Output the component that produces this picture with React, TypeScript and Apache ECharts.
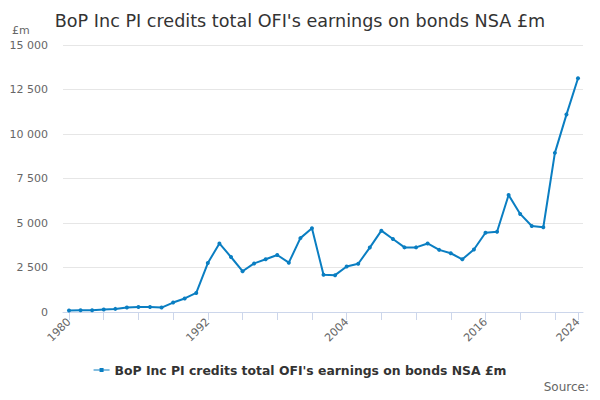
import React, { useEffect, useRef } from "react";
import * as echarts from "echarts";

const years: number[] = [
  1980, 1981, 1982, 1983, 1984, 1985, 1986, 1987, 1988, 1989, 1990, 1991, 1992, 1993, 1994,
  1995, 1996, 1997, 1998, 1999, 2000, 2001, 2002, 2003, 2004, 2005, 2006, 2007, 2008, 2009,
  2010, 2011, 2012, 2013, 2014, 2015, 2016, 2017, 2018, 2019, 2020, 2021, 2022, 2023, 2024,
];
const values: number[] = [
  80, 95, 95, 135, 175, 250, 285, 285, 250, 530, 760, 1070, 2750, 3850, 3090,
  2290, 2730, 2960, 3200, 2770, 4150, 4700, 2090, 2070, 2560, 2710, 3620, 4570, 4100, 3630,
  3630, 3850, 3490, 3300, 2960, 3510, 4450, 4510, 6570, 5510, 4830, 4760, 8940, 11090, 13130,
];
const tickYears: number[] = [1980, 1983, 1986, 1989, 1992, 1995, 1998, 2001, 2004, 2007, 2010, 2013, 2016, 2019, 2022, 2024];
const labelYears: number[] = [1980, 1992, 2004, 2016, 2024];
const seriesName = "BoP Inc PI credits total OFI's earnings on bonds NSA £m";

const FONT = "DejaVu Sans";

export default function App() {
  const ref = useRef<HTMLDivElement>(null);
  useEffect(() => {
    if (!ref.current) return;
    const chart = echarts.init(ref.current, null, { renderer: "svg" });
    chart.setOption({
      animation: false,
      textStyle: { fontFamily: FONT },
      title: {
        text: seriesName,
        left: "center",
        top: 7,
        textStyle: { fontFamily: FONT, fontSize: 17.6, fontWeight: "normal", color: "#333333" },
      },
      grid: { left: 63, right: 17, top: 45, bottom: 88 },
      legend: {
        bottom: 19,
        left: "center",
        itemWidth: 16,
        itemHeight: 8,
        itemGap: 5,
        textStyle: { fontFamily: FONT, fontSize: 12.4, fontWeight: "bold", color: "#333333" },
        data: [{ name: seriesName, icon: "path://M0,3.5 L16,3.5 L16,4.5 L0,4.5 Z M6,2 L10,2 L10,6 L6,6 Z" }],
      },
      xAxis: {
        type: "value",
        min: 1979.48,
        max: 2024.43,
        axisLine: { show: true, lineStyle: { color: "#ccd6eb" } },
        axisTick: { show: true, length: 8, lineStyle: { color: "#ccd6eb" }, customValues: tickYears },
        axisLabel: {
          customValues: labelYears,
          rotate: 45,
          color: "#666666",
          fontSize: 11,
          fontFamily: FONT,
          margin: 8,
          formatter: (v: number) => String(v),
        },
        splitLine: { show: false },
      },
      yAxis: {
        type: "value",
        min: 0,
        max: 15000,
        interval: 2500,
        axisLine: { show: false },
        axisTick: { show: false },
        axisLabel: {
          color: "#666666",
          fontSize: 11,
          fontFamily: FONT,
          margin: 15,
          formatter: (v: number) => String(v).replace(/\B(?=(\d{3})+(?!\d))/g, " "),
        },
        splitLine: { lineStyle: { color: "#e6e6e6" } },
      },
      graphic: [
        {
          type: "text",
          left: 12,
          top: 25,
          style: { text: "£m", fontFamily: FONT, fontSize: 11, fill: "#666666" },
        },
        {
          type: "text",
          right: 11,
          top: 381,
          style: { text: "Source:", fontFamily: FONT, fontSize: 12, fill: "#666666" },
        },
      ],
      series: [
        {
          name: seriesName,
          type: "line",
          data: years.map((y, i) => [y, values[i]]),
          symbol: "circle",
          symbolSize: 4,
          lineStyle: { width: 2, color: "#0a7ec2" },
          itemStyle: { color: "#0a7ec2" },
        },
      ],
    });
    return () => chart.dispose();
  }, []);
  return <div ref={ref} style={{ width: 600, height: 400, position: "absolute", left: 0, top: 0 }} />;
}
